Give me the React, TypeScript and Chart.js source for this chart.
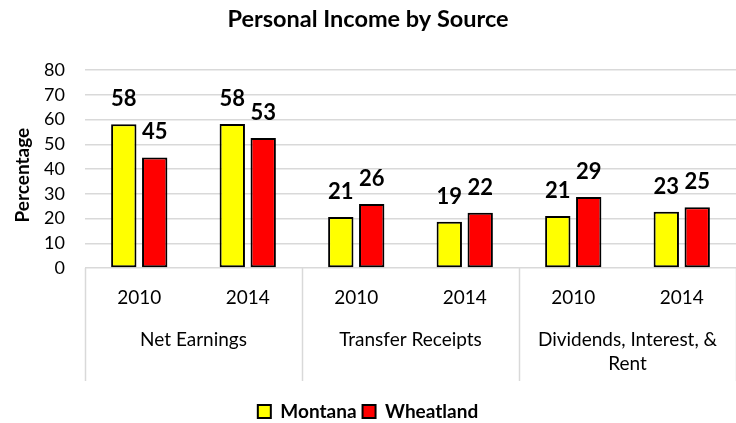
import React, { useEffect, useRef } from "react";
import { Chart, registerables } from "chart.js";

Chart.register(...registerables);

// ---- data ----
const groups = ["Net Earnings", "Transfer Receipts", "Dividends, Interest, & Rent"];
const years = ["2010", "2014"];
const montana = [58.1, 58.2, 20.6, 18.7, 21.0, 22.7];
const wheatland = [44.7, 52.6, 25.9, 22.3, 28.7, 24.6];
const seriesNames = ["Montana", "Wheatland"];
const yMin = 0;
const yMax = 80;
const yStep = 10;
const titleText = "Personal Income by Source";
const yTitle = "Percentage";

const FONT = "Lato, 'Open Sans', sans-serif";
const labels = groups.flatMap(() => years);

const dataLabelPlugin = {
  id: "dataLabels",
  afterDatasetsDraw(chart: any) {
    const { ctx } = chart;
    ctx.save();
    ctx.font = `bold 22px ${FONT}`;
    ctx.fillStyle = "#000";
    ctx.textAlign = "center";
    ctx.textBaseline = "alphabetic";
    chart.data.datasets.forEach((ds: any, di: number) => {
      const meta = chart.getDatasetMeta(di);
      meta.data.forEach((el: any, i: number) => {
        const v = ds.data[i];
        ctx.fillText(String(Math.round(v)), el.x, el.y - 18);
      });
    });
    ctx.restore();
  },
};

const yTitlePlugin = {
  id: "yTitle",
  afterDraw(chart: any) {
    const { ctx, chartArea } = chart;
    ctx.save();
    ctx.font = `bold 19px ${FONT}`;
    ctx.fillStyle = "#000";
    ctx.textAlign = "center";
    ctx.textBaseline = "middle";
    ctx.translate(23, (chartArea.top + chartArea.bottom) / 2 + 6);
    ctx.rotate(-Math.PI / 2);
    ctx.fillText(yTitle, 0, 0);
    ctx.restore();
  },
};

const groupAxisPlugin = {
  id: "groupAxis",
  afterDraw(chart: any) {
    const { ctx, chartArea } = chart;
    const x = chart.scales.x;
    const per = years.length;
    const catW = (x.right - x.left) / labels.length;
    const top = chartArea.bottom;
    ctx.save();
    ctx.strokeStyle = "#d9d9d9";
    ctx.lineWidth = 1.5;
    for (let g = 0; g <= groups.length; g++) {
      const px = Math.round(x.left + g * per * catW) + 0.5;
      ctx.beginPath();
      ctx.moveTo(px, top);
      ctx.lineTo(px, top + 113);
      ctx.stroke();
    }
    ctx.font = `19px ${FONT}`;
    ctx.fillStyle = "#000";
    ctx.textAlign = "center";
    ctx.textBaseline = "alphabetic";
    const maxW = per * catW - 16;
    groups.forEach((name, g) => {
      const cx = x.left + (g * per + per / 2) * catW;
      const words = name.split(" ");
      const lines: string[] = [];
      let cur = "";
      words.forEach((w) => {
        const test = cur ? cur + " " + w : w;
        if (ctx.measureText(test).width > maxW && cur) {
          lines.push(cur);
          cur = w;
        } else cur = test;
      });
      if (cur) lines.push(cur);
      lines.forEach((ln, li) => {
        ctx.fillText(ln, cx, top + 78 + li * 23.5);
      });
    });
    ctx.restore();
  },
};

export default function App() {
  const ref = useRef<HTMLCanvasElement | null>(null);
  useEffect(() => {
    if (!ref.current) return;
    const chart = new Chart(ref.current, {
      type: "bar",
      data: {
        labels,
        datasets: [
          {
            label: seriesNames[0],
            data: montana,
            backgroundColor: "#FFFF00",
            borderColor: "#000",
            borderWidth: 2,
            borderSkipped: false,
          },
          {
            label: seriesNames[1],
            data: wheatland,
            backgroundColor: "#FF0000",
            borderColor: "#000",
            borderWidth: 2,
            borderSkipped: false,
          },
        ],
      },
      options: {
        animation: false,
        responsive: true,
        maintainAspectRatio: false,
        layout: { padding: { left: 0, right: 0, top: 0, bottom: 0 } },
        datasets: { bar: { categoryPercentage: 0.57, barPercentage: 0.82 } },
        plugins: {
          title: {
            display: true,
            text: titleText,
            color: "#000",
            font: { family: FONT, size: 23.5, weight: "bold" },
            padding: { top: 5, bottom: 37 },
          },
          legend: {
            position: "bottom",
            labels: {
              color: "#000",
              font: { family: FONT, size: 19, weight: "bold" },
              boxWidth: 13,
              boxHeight: 13,
              padding: 6,
            },
          },
          tooltip: { enabled: false },
        },
        scales: {
          x: {
            grid: { display: false, drawTicks: false },
            border: { display: false },
            ticks: {
              color: "#000",
              font: { family: FONT, size: 19 },
              padding: 18,
              maxRotation: 0,
              autoSkip: false,
            },
            afterFit(scale: any) {
              scale.height = 128;
            },
          },
          y: {
            min: yMin,
            max: yMax,
            grid: { color: "#d9d9d9", lineWidth: 1.5, drawTicks: false },
            border: { display: false },
            ticks: {
              stepSize: yStep,
              color: "#000",
              font: { family: FONT, size: 18 },
              padding: 20,
            },
            title: { display: false },
            afterFit(scale: any) {
              scale.width = 85;
            },
          },
        },
      },
      plugins: [dataLabelPlugin, groupAxisPlugin, yTitlePlugin],
    });
    return () => chart.destroy();
  }, []);
  return (
    <div style={{ position: "fixed", left: 0, top: 0, width: 736, height: 431, background: "#fff" }}>
      <canvas ref={ref} />
    </div>
  );
}
